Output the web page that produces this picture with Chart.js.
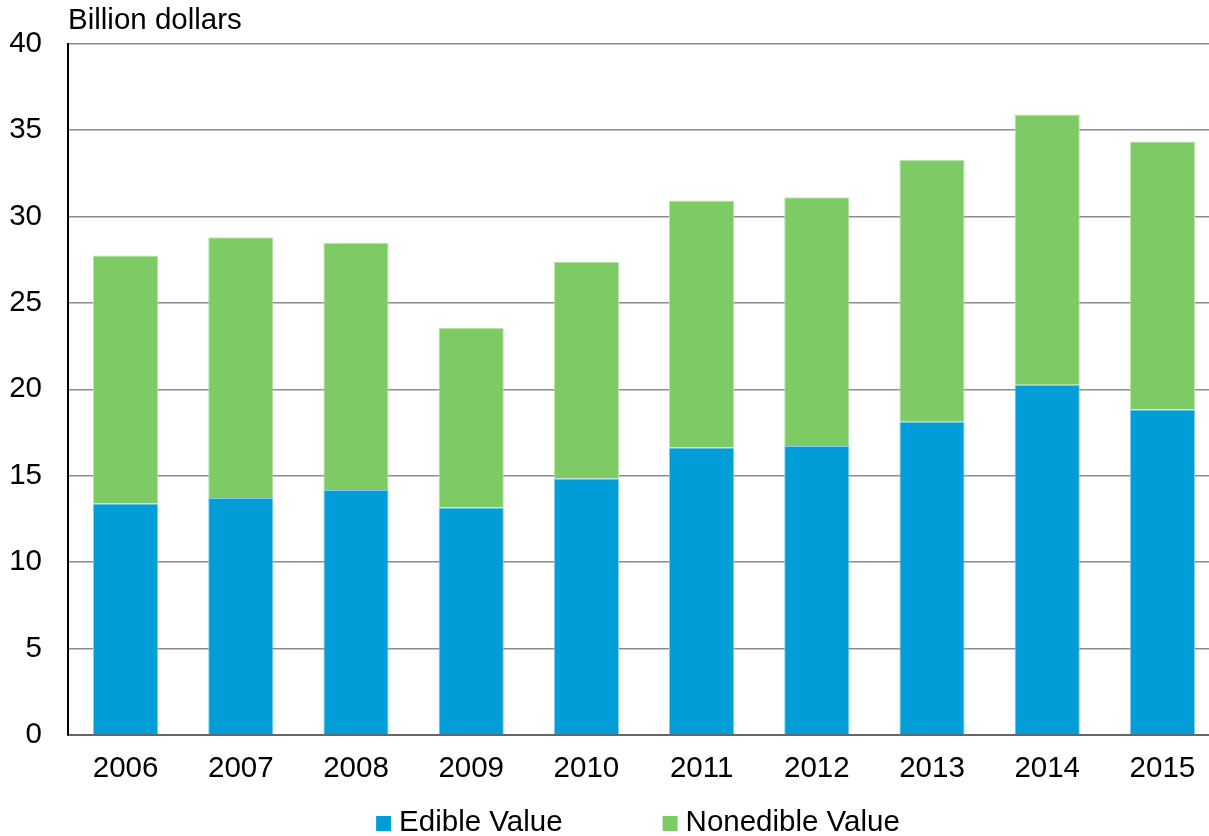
<!DOCTYPE html>
<html>
<head>
<meta charset="utf-8">
<script src="https://cdn.jsdelivr.net/npm/chart.js@4/dist/chart.umd.min.js"></script>
<style>
  html, body { margin: 0; padding: 0; background: #fff; overflow: hidden; }
  #wrap { width: 1220px; height: 836px; }
</style>
</head>
<body>
<div id="wrap"><canvas id="chart" width="1220" height="836"></canvas></div>
<script>
const years = ['2006', '2007', '2008', '2009', '2010', '2011', '2012', '2013', '2014', '2015'];
const edible = [13.39, 13.72, 14.18, 13.16, 14.84, 16.63, 16.72, 18.13, 20.27, 18.83];
const nonedible = [14.36, 15.08, 14.30, 10.41, 12.54, 14.30, 14.40, 15.14, 15.63, 15.51];
const yTicks = [0, 5, 10, 15, 20, 25, 30, 35, 40];

const FONT = "'Liberation Sans', Arial, sans-serif";
const FONT_SIZE = 29.5;

// unit label above the y axis
const unitLabel = {
    id: 'unitLabel',
    afterDraw(chart) {
        const ctx = chart.ctx;
        ctx.save();
        ctx.font = FONT_SIZE + 'px ' + FONT;
        ctx.fillStyle = '#000';
        ctx.textAlign = 'left';
        ctx.textBaseline = 'alphabetic';
        ctx.fillText('Billion dollars', chart.chartArea.left, 29);
        ctx.restore();
    }
};

// legend drawn by hand so the gap between items can be wide
const bottomLegend = {
    id: 'bottomLegend',
    afterDraw(chart) {
        const ctx = chart.ctx;
        ctx.save();
        ctx.font = FONT_SIZE + 'px ' + FONT;
        const box = 15, gap = 8, spacing = 100;
        const items = chart.data.datasets.map(ds => ({
            text: ds.label,
            color: ds.backgroundColor,
            w: box + gap + ctx.measureText(ds.label).width
        }));
        const total = items.reduce((s, it) => s + it.w, 0) + spacing * (items.length - 1);
        let x = 638 - total / 2;
        const baseline = 831;
        items.forEach(it => {
            ctx.fillStyle = it.color;
            ctx.fillRect(x, baseline - box, box, box);
            ctx.fillStyle = '#000';
            ctx.textBaseline = 'alphabetic';
            ctx.fillText(it.text, x + box + gap, baseline);
            x += it.w + spacing;
        });
        ctx.restore();
    }
};

new Chart(document.getElementById('chart'), {
    type: 'bar',
    data: {
        labels: years,
        datasets: [{
            label: 'Edible Value',
            data: edible,
            backgroundColor: '#009dd9',
            borderColor: '#7fcdf0',
            borderWidth: 1
        },
        {
            label: 'Nonedible Value',
            data: nonedible,
            backgroundColor: '#7ecb66',
            borderColor: '#b9e4aa',
            borderWidth: 1
        }]
    },
    options: {
        responsive: false,
        animation: false,
        layout: { padding: { top: 43, right: 0, bottom: 0, left: 0 } },
        plugins: {
            legend: { display: false },
            tooltip: { enabled: false },
            title: { display: false }
        },
        datasets: {
            bar: { categoryPercentage: 1, barPercentage: 0.566 }
        },
        scales: {
            x: {
                stacked: true,
                z: 1,
                grid: { display: false, drawTicks: false },
                border: { display: true, color: '#666', width: 2 },
                ticks: { color: '#000', font: { family: FONT, size: FONT_SIZE }, padding: 16, maxRotation: 0 },
                afterFit(scale) { scale.height = 101; }
            },
            y: {
                stacked: true,
                min: 0,
                max: 40,
                afterBuildTicks(scale) { scale.ticks = yTicks.map(v => ({ value: v })); },
                grid: { color: '#8c8c8c', lineWidth: 1.5, drawTicks: false },
                border: { display: true, color: '#000', width: 2 },
                ticks: { color: '#000', font: { family: FONT, size: FONT_SIZE }, padding: 26 },
                afterFit(scale) { scale.width = 68; }
            }
        }
    },
    plugins: [unitLabel, bottomLegend]
});
</script>
</body>
</html>
